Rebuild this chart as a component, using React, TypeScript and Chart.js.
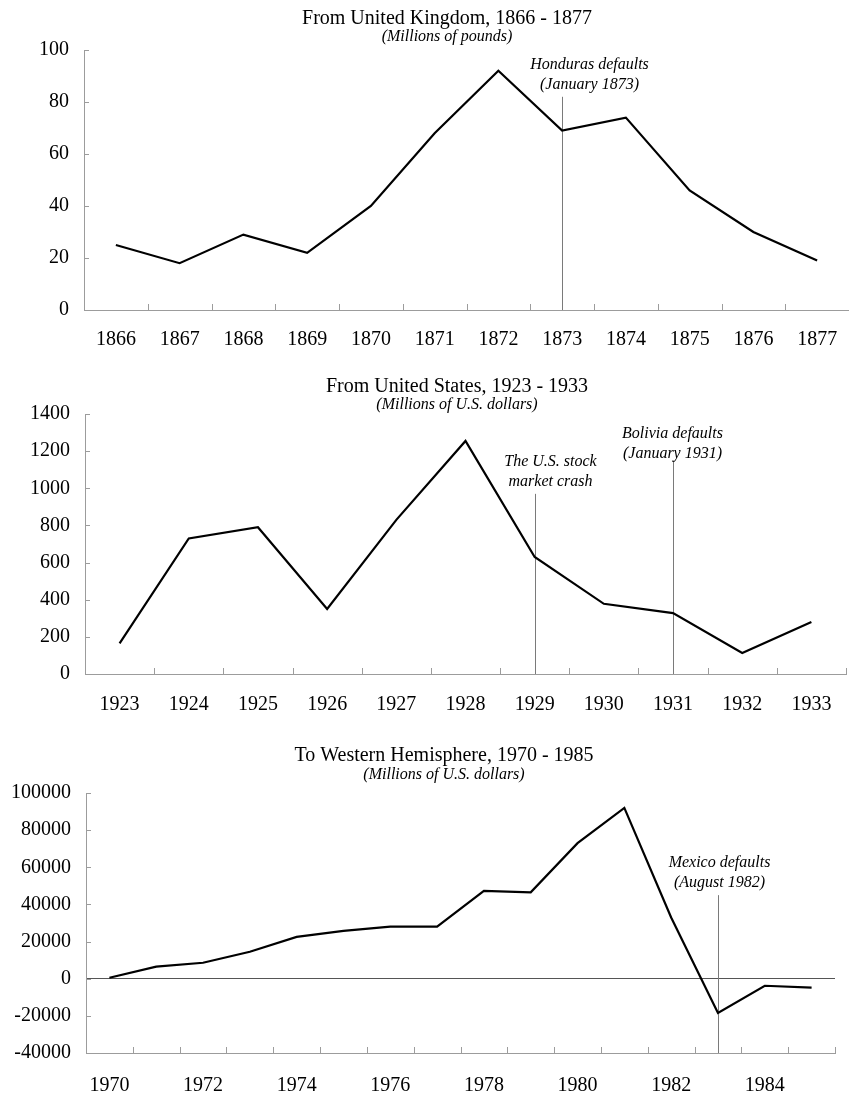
import React, { useEffect, useRef } from 'react';
import { Chart, registerables } from 'chart.js';

Chart.register(...registerables);

// ---------- DATA ----------
const ukYears = ['1866', '1867', '1868', '1869', '1870', '1871', '1872', '1873', '1874', '1875', '1876', '1877'];
const ukValues = [25, 18, 29, 22, 40, 68, 92, 69, 74, 46, 30, 19];

const usYears = ['1923', '1924', '1925', '1926', '1927', '1928', '1929', '1930', '1931', '1932', '1933'];
const usValues = [165, 730, 790, 350, 830, 1255, 630, 378, 328, 113, 280];

const whYears = ['1970', '1971', '1972', '1973', '1974', '1975', '1976', '1977', '1978', '1979', '1980', '1981', '1982', '1983', '1984', '1985'];
const whValues = [500, 6500, 8600, 14500, 22500, 25800, 28000, 28000, 47300, 46500, 73000, 92000, 33000, -18500, -3800, -4800];

const ukMarkers = [{ category: '1873', top: 82, lines: ['Honduras defaults', '(January 1873)'] }];
const usMarkers = [
  { category: '1929', top: 970, lines: ['The U.S. stock', 'market crash'] },
  { category: '1931', top: 1150, lines: ['Bolivia defaults', '(January 1931)'] },
];
const whMarkers = [{ category: '1983', top: 45000, lines: ['Mexico defaults', '(August 1982)'] }];

// ---------- STYLE ----------
const FONT = "'Liberation Serif', 'Times New Roman', Times, serif";
const AXIS = '#9c9c9c';
const MARK = '#7a7a7a';
const ZERO = '#555555';
const TEXT = '#000000';

type Marker = { category: string; top: number; lines: string[] };
type Cfg = {
  top: number;
  height: number;
  canvasWidth: number;
  title: string;
  subtitle: string;
  labels: string[];
  values: number[];
  min: number;
  max: number;
  step: number;
  markers: Marker[];
  markerStyle: { dx: number; lift: number }[];
  rightSpace: number;
  yWidth: number;
  xHeight: number;
  xPad: number;
  titlePad: { top: number; bottom: number };
  subPad: { top: number; bottom: number };
  everyOther?: boolean;
  zeroLine?: boolean;
};

function makePlugins(cfg: Cfg) {
  const ticksPlugin = {
    id: 'insideTicks',
    afterDatasetsDraw(chart: any) {
      const { ctx, chartArea, scales } = chart;
      const x = scales.x;
      const y = scales.y;
      ctx.save();
      ctx.strokeStyle = AXIS;
      ctx.lineWidth = 1;
      ctx.beginPath();
      const n = cfg.labels.length;
      const step = x.getPixelForValue(1) - x.getPixelForValue(0);
      const start = x.getPixelForValue(0) - step / 2;
      for (let k = 1; k <= n; k++) {
        const px = Math.round(start + k * step) + 0.5;
        ctx.moveTo(px, chartArea.bottom);
        ctx.lineTo(px, chartArea.bottom - 6);
      }
      y.ticks.forEach((t: any) => {
        const py = Math.round(y.getPixelForValue(t.value)) + 0.5;
        ctx.moveTo(chartArea.left, py);
        ctx.lineTo(chartArea.left + 5, py);
      });
      ctx.stroke();
      ctx.restore();
    },
  };
  const markerPlugin = {
    id: 'markers',
    beforeDatasetsDraw(chart: any) {
      const { ctx, chartArea, scales } = chart;
      const x = scales.x;
      const y = scales.y;
      ctx.save();
      cfg.markers.forEach((m, i) => {
        const st = cfg.markerStyle[i];
        const idx = cfg.labels.indexOf(m.category);
        const px = Math.round(x.getPixelForValue(idx)) + 0.5;
        const pyTop = y.getPixelForValue(m.top);
        ctx.strokeStyle = MARK;
        ctx.lineWidth = 1;
        ctx.beginPath();
        ctx.moveTo(px, pyTop);
        ctx.lineTo(px, chartArea.bottom);
        ctx.stroke();
        ctx.fillStyle = TEXT;
        ctx.font = `italic 16px ${FONT}`;
        ctx.textAlign = 'center';
        ctx.textBaseline = 'middle';
        const nl = m.lines.length;
        m.lines.forEach((line, j) => {
          ctx.fillText(line, px + st.dx, pyTop - st.lift - (nl - 1 - j) * 20);
        });
      });
      ctx.restore();
    },
  };
  return [ticksPlugin, markerPlugin];
}

function LineChart({ cfg }: { cfg: Cfg }) {
  const ref = useRef<HTMLCanvasElement>(null);
  useEffect(() => {
    if (!ref.current) return;
    const chart = new Chart(ref.current, {
      type: 'line',
      data: {
        labels: cfg.labels,
        datasets: [
          {
            data: cfg.values,
            borderColor: '#000000',
            borderWidth: 2.2,
            pointRadius: 0,
            tension: 0,
            fill: false,
            yAxisID: 'y',
          },
        ],
      },
      options: {
        responsive: false,
        animation: false,
        events: [],
        layout: { padding: 0 },
        plugins: {
          legend: { display: false },
          tooltip: { enabled: false },
          title: {
            display: true,
            text: cfg.title,
            color: TEXT,
            font: { family: FONT, size: 20, weight: 'normal', lineHeight: 1 },
            padding: cfg.titlePad,
          },
          subtitle: {
            display: true,
            text: cfg.subtitle,
            color: TEXT,
            font: { family: FONT, size: 16, style: 'italic', weight: 'normal', lineHeight: 1 },
            padding: cfg.subPad,
          },
        },
        scales: {
          x: {
            type: 'category',
            offset: true,
            grid: { display: false, offset: true, drawTicks: false },
            border: { display: true, color: AXIS, width: 1 },
            ticks: {
              color: TEXT,
              font: { family: FONT, size: 20 },
              padding: cfg.xPad,
              autoSkip: false,
              maxRotation: 0,
              callback: (_v: any, i: number) => (cfg.everyOther && i % 2 === 1 ? '' : cfg.labels[i]),
            },
            afterFit: (s: any) => {
              s.height = cfg.xHeight;
            },
          },
          y: {
            position: 'left',
            min: cfg.min,
            max: cfg.max,
            grid: {
              display: !!cfg.zeroLine,
              drawTicks: false,
              color: (c: any) => (c.tick && c.tick.value === 0 ? ZERO : 'rgba(0,0,0,0)'),
            },
            border: { display: true, color: AXIS, width: 1 },
            ticks: {
              stepSize: cfg.step,
              color: TEXT,
              font: { family: FONT, size: 20 },
              padding: 15,
              callback: (v: any) => String(v),
            },
            afterFit: (s: any) => {
              s.width = cfg.yWidth;
            },
          },
          spacer: {
            type: 'linear',
            position: 'right',
            display: true,
            grid: { display: false, drawTicks: false },
            border: { display: false },
            ticks: { display: false },
            afterFit: (s: any) => {
              s.width = cfg.rightSpace;
            },
          },
        },
      } as any,
      plugins: makePlugins(cfg) as any,
    });
    return () => chart.destroy();
  }, [cfg]);
  return (
    <div style={{ position: 'absolute', left: 0, top: cfg.top, width: cfg.canvasWidth, height: cfg.height }}>
      <canvas ref={ref} width={cfg.canvasWidth} height={cfg.height} style={{ display: 'block' }} />
    </div>
  );
}

const charts: Cfg[] = [
  {
    top: 0,
    height: 365,
    canvasWidth: 894,
    title: 'From United Kingdom, 1866 - 1877',
    subtitle: '(Millions of pounds)',
    labels: ukYears,
    values: ukValues,
    min: 0,
    max: 100,
    step: 20,
    markers: ukMarkers,
    markerStyle: [{ dx: 27, lift: 12 }],
    rightSpace: 45,
    yWidth: 84,
    xHeight: 55,
    xPad: 18,
    titlePad: { top: 9, bottom: 0 },
    subPad: { top: 0, bottom: 5 },
  },
  {
    top: 365,
    height: 370,
    canvasWidth: 914,
    title: 'From United States, 1923 - 1933',
    subtitle: '(Millions of U.S. dollars)',
    labels: usYears,
    values: usValues,
    min: 0,
    max: 1400,
    step: 200,
    markers: usMarkers,
    markerStyle: [
      { dx: 15, lift: 12 },
      { dx: -1, lift: 7 },
    ],
    rightSpace: 68,
    yWidth: 85,
    xHeight: 61,
    xPad: 19,
    titlePad: { top: 12, bottom: 0 },
    subPad: { top: 0, bottom: 1 },
  },
  {
    top: 735,
    height: 359,
    canvasWidth: 888,
    title: 'To Western Hemisphere, 1970 - 1985',
    subtitle: '(Millions of U.S. dollars)',
    labels: whYears,
    values: whValues,
    min: -40000,
    max: 100000,
    step: 20000,
    markers: whMarkers,
    markerStyle: [{ dx: 1, lift: 12 }],
    rightSpace: 53,
    yWidth: 86,
    xHeight: 41,
    xPad: 21,
    titlePad: { top: 11, bottom: 0 },
    subPad: { top: 1, bottom: 10 },
    everyOther: true,
    zeroLine: true,
  },
];

export default function App() {
  return (
    <div
      style={{
        position: 'absolute',
        left: 0,
        top: 0,
        width: 849,
        height: 1094,
        overflow: 'hidden',
        background: '#fff',
      }}
    >
      {charts.map((c, i) => (
        <LineChart key={i} cfg={c} />
      ))}
    </div>
  );
}
